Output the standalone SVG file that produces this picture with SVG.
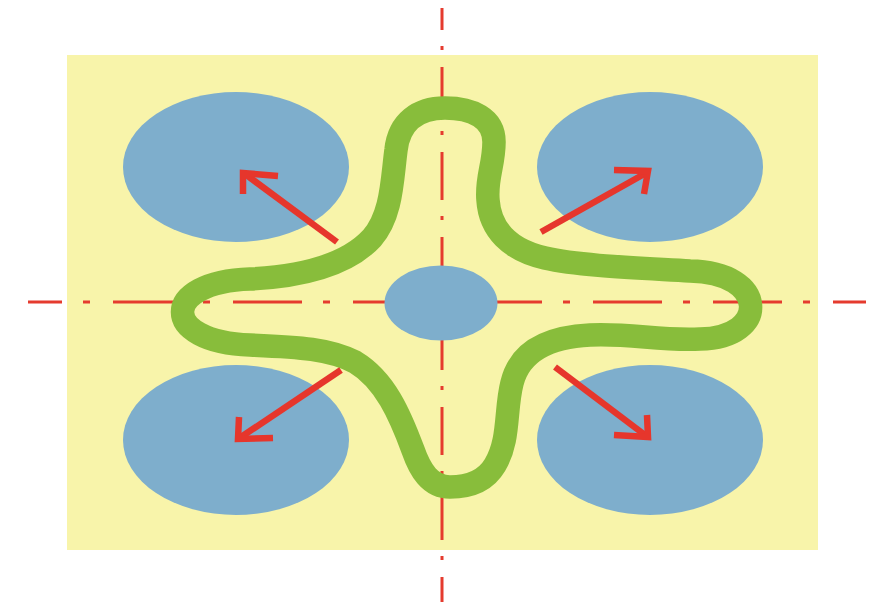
<svg xmlns="http://www.w3.org/2000/svg" width="882" height="603" viewBox="0 0 882 603">
  <style>
    .blob { fill: #7eaecc; }
    .axis { stroke: #e53b2e; stroke-width: 3; fill: none; }
    .band { fill: none; stroke: #88bd3b; stroke-width: 23.5; stroke-linejoin: round; }
    .arrow { fill: none; stroke: #e6362c; stroke-width: 6.5; stroke-linecap: butt; stroke-linejoin: miter; }
  </style>
  <rect width="882" height="603" fill="#ffffff"/>
  <g id="plate">
    <rect x="67" y="55" width="751" height="495" fill="#f8f4aa"/>
  </g>
  <g id="axes">
    <line class="axis" x1="28" y1="302" x2="866" y2="302" stroke-dasharray="69 21 7 23" stroke-dashoffset="35"/>
    <line class="axis" x1="442" y1="8" x2="442" y2="602" stroke-dasharray="48 16 4 17" stroke-dashoffset="26"/>
  </g>
  <g id="ellipse-top-left"><ellipse class="blob" cx="236" cy="167" rx="113" ry="75"/></g>
  <g id="ellipse-top-right"><ellipse class="blob" cx="650" cy="167" rx="113" ry="75"/></g>
  <g id="ellipse-bottom-left"><ellipse class="blob" cx="236" cy="440" rx="113" ry="75"/></g>
  <g id="ellipse-bottom-right"><ellipse class="blob" cx="650" cy="440" rx="113" ry="75"/></g>
  <g id="ellipse-center"><ellipse class="blob" cx="441" cy="303" rx="56.5" ry="37.5"/></g>
  <g id="band">
    <path class="band" d="M 445 108 C 472 108, 494 118, 494 142 C 494 165, 486 178, 488 200 C 490 230, 510 250, 545 258 C 580 266, 640 268, 690 271 C 768 272, 770 338, 700 339 C 660 341, 630 333, 590 335 C 550 337, 520 350, 512 383 C 505 410, 510 440, 495 465 C 485 482, 468 487, 450 487 C 430 487, 420 470, 413 450 C 400 415, 385 380, 355 362 C 330 349, 300 347, 250 345 C 160 342, 160 282, 250 279 C 310 276, 350 262, 372 238 C 392 215, 392 180, 396 150 C 399 122, 418 108, 445 108 Z"/>
  </g>
  <g id="connectors">
    <g id="arrow-top-left">
      <line class="arrow" x1="337" y1="242" x2="245" y2="174"/>
      <polyline class="arrow" points="278,176 243,173 243,194"/>
    </g>
    <g id="arrow-top-right">
      <line class="arrow" x1="541" y1="232" x2="646" y2="173"/>
      <polyline class="arrow" points="614,170 648,171 644,194"/>
    </g>
    <g id="arrow-bottom-left">
      <line class="arrow" x1="341" y1="370" x2="241" y2="437"/>
      <polyline class="arrow" points="239,417 238,439 273,438"/>
    </g>
    <g id="arrow-bottom-right">
      <line class="arrow" x1="555" y1="367" x2="645" y2="435"/>
      <polyline class="arrow" points="647,415 648,437 614,435"/>
    </g>
  </g>
</svg>
